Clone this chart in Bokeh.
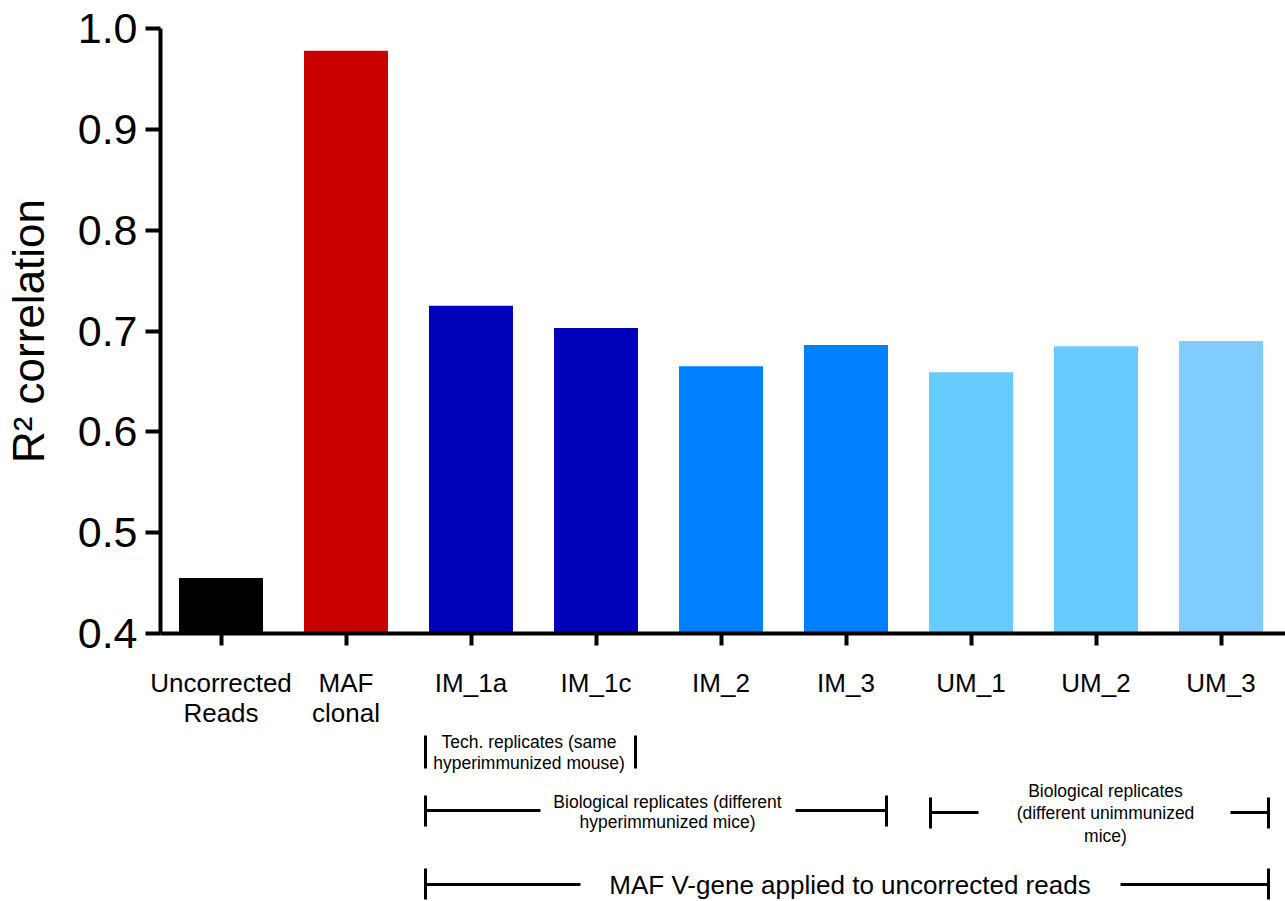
from bokeh.plotting import figure
from bokeh.models import Range1d, FixedTicker, PrintfTickFormatter, ColumnDataSource
from bokeh.layouts import column
from bokeh.embed import file_html
from bokeh.resources import INLINE
from bokeh.core.properties import value

# ---------------- data ----------------
categories = ["Uncorrected\nReads", "MAF\nclonal", "IM_1a", "IM_1c", "IM_2", "IM_3",
              "UM_1", "UM_2", "UM_3"]
r2_values = [0.455, 0.978, 0.725, 0.703, 0.665, 0.686, 0.659, 0.685, 0.690]
bar_colors = ["#000000", "#C80000", "#0000BB", "#0000BB", "#0080FF", "#0080FF",
              "#66CCFF", "#66CCFF", "#80CCFF"]
y_ticks = [0.4, 0.5, 0.6, 0.7, 0.8, 0.9, 1.0]

bracket_texts = [
    ["Tech. replicates (same", "hyperimmunized mouse)"],
    ["Biological replicates (different", "hyperimmunized mice)"],
    ["Biological replicates", "(different unimmunized", "mice)"],
    ["MAF V-gene applied to uncorrected reads"],
]
bracket_first = [2, 2, 6, 2]   # first category index covered
bracket_last = [3, 5, 8, 8]    # last category index covered

FONT = "Liberation Sans"
idx = list(range(len(categories)))

# ---------------- main chart ----------------
p = figure(width=1285, height=733, output_backend="svg", toolbar_location=None,
           x_range=Range1d(-0.484, 8.516), y_range=Range1d(0.4, 1.0),
           min_border_left=160, min_border_right=0, min_border_top=28, min_border_bottom=100)
p.outline_line_color = None
p.xgrid.visible = False
p.ygrid.visible = False

src = ColumnDataSource(dict(x=idx, top=r2_values, color=bar_colors))
p.vbar(x="x", top="top", bottom=0.4, width=0.672, fill_color="color", line_color=None, source=src)

# y axis
ya = p.yaxis[0]
ya.ticker = FixedTicker(ticks=y_ticks)
ya.formatter = PrintfTickFormatter(format="%.1f")
ya.minor_tick_line_color = None
ya.major_tick_in = 0
ya.major_tick_out = 15
ya.major_tick_line_width = 4
ya.axis_line_width = 4
ya.major_label_standoff = 8
ya.major_label_text_font = FONT
ya.major_label_text_font_size = "43px"
ya.major_label_text_color = "#000000"
ya.axis_label = "R² correlation"
ya.axis_label_text_font = FONT
ya.axis_label_text_font_size = "44px"
ya.axis_label_text_font_style = "normal"
ya.axis_label_text_color = "#000000"
ya.axis_label_standoff = 22

# x axis
xa = p.xaxis[0]
xa.ticker = FixedTicker(ticks=idx)
xa.major_label_overrides = {i: c for i, c in zip(idx, categories)}
xa.minor_tick_line_color = None
xa.major_tick_in = 0
xa.major_tick_out = 12
xa.major_tick_line_width = 4
xa.axis_line_width = 4
xa.major_label_standoff = 22
xa.major_label_text_font = FONT
xa.major_label_text_font_size = "26px"
xa.major_label_text_color = "#000000"
xa.major_label_text_line_height = 1.0

# ---------------- bracket annotations ----------------
q = figure(width=1285, height=168, output_backend="svg", toolbar_location=None,
           x_range=p.x_range, y_range=Range1d(901, 733),
           min_border_left=160, min_border_right=0, min_border_top=0, min_border_bottom=0)
q.outline_line_color = None
q.axis.visible = False
q.grid.visible = False

layout = [
    dict(pl=0.364, pr=0.316, tc=2.464, t0=735, t1=768, ly=None, ty=[741, 762], fs="17.5px", g=None),
    dict(pl=0.364, pr=0.324, tc=3.572, t0=795, t1=826, ly=810, ty=[801, 821], fs="17.5px", g=(2.556, 4.596)),
    dict(pl=0.324, pr=0.380, tc=7.076, t0=797, t1=828, ly=812, ty=[790, 812, 835], fs="17.5px", g=(6.06, 8.076)),
    dict(pl=0.364, pr=0.380, tc=5.032, t0=868, t1=899, ly=884, ty=[884], fs="26px", g=(2.876, 7.196)),
]

for texts, f, l, L in zip(bracket_texts, bracket_first, bracket_last, layout):
    x0 = f - L["pl"]
    x1 = l + L["pr"]
    q.segment(x0=[x0, x1], y0=[L["t0"], L["t0"]], x1=[x0, x1], y1=[L["t1"], L["t1"]],
              line_color="#000000", line_width=3)
    if L["g"] is not None:
        q.segment(x0=[x0, L["g"][1]], y0=[L["ly"]] * 2, x1=[L["g"][0], x1], y1=[L["ly"]] * 2,
                  line_color="#000000", line_width=3)
    q.text(x=[L["tc"]] * len(texts), y=L["ty"], text=texts,
           text_font=value(FONT), text_font_size=L["fs"], text_color="#000000",
           text_align="center", text_baseline="middle")

layout_all = column(p, q, spacing=0)
open("out.html", "w").write(file_html(layout_all, INLINE))
